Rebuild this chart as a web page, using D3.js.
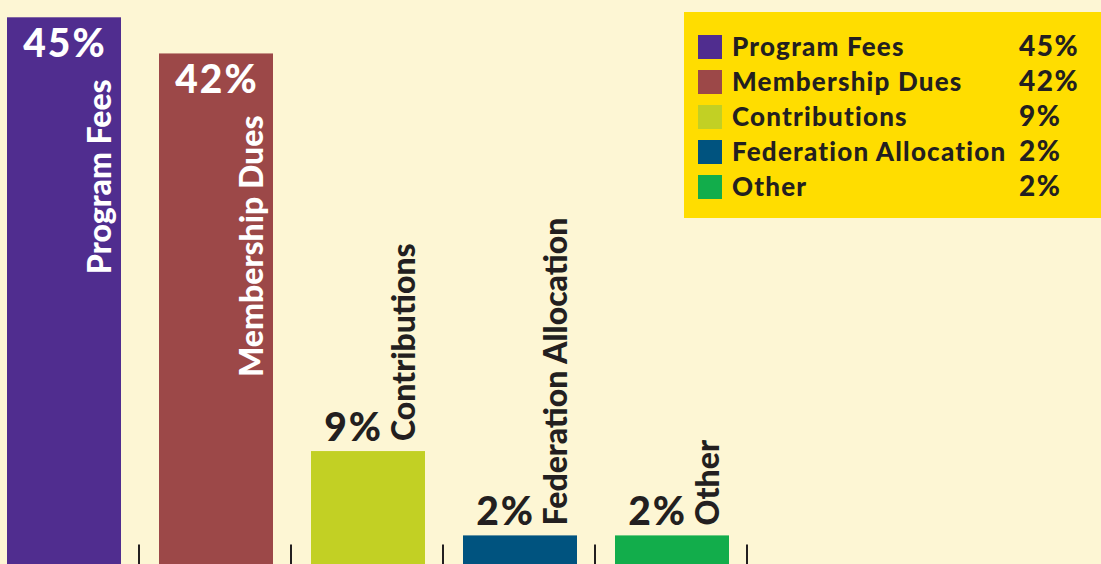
<!DOCTYPE html>
<html>
<head>
<meta charset="utf-8">
<script src="https://cdn.jsdelivr.net/npm/d3@7"></script>
<style>
  body { margin: 0; background: #fdf6d4; }
  svg { display: block; font-family: Lato, "Open Sans", sans-serif; font-weight: 900; }
</style>
</head>
<body>
<svg id="chart"></svg>
<script>
const categories = ["Program Fees", "Membership Dues", "Contributions", "Federation Allocation", "Other"];
const values = [45, 42, 9, 2, 2];
const colors = ["#502d8f", "#9c4848", "#c2d024", "#00537f", "#12ad4b"];
const valueLabels = ["45%", "42%", "9%", "2%", "2%"];

const w = 1101;
const h = 564;
const ink = "#231f20";

const data = categories.map((c, i) => ({ name: c, value: values[i], color: colors[i], label: valueLabels[i] }));

const svg = d3.select("#chart").attr("width", w).attr("height", h);

svg.append("rect").attr("width", w).attr("height", h).attr("fill", "#fdf6d4");

// scales
const x = d3.scaleBand()
  .domain(categories)
  .range([7, 729])
  .paddingInner(0.25)
  .paddingOuter(0);

const y = d3.scaleLinear()
  .domain([0, 45])
  .range([559.5, 17.3]);

const bw = x.bandwidth();
const gap = x.step() - bw;

// bars (run off the bottom edge like the original)
svg.selectAll("rect.bar")
  .data(data)
  .enter()
  .append("rect")
  .attr("class", "bar")
  .attr("x", d => x(d.name))
  .attr("y", d => y(d.value))
  .attr("width", bw)
  .attr("height", d => h - y(d.value))
  .attr("fill", d => d.color);

// tick marks between bars
svg.selectAll("line.tick")
  .data(data)
  .enter()
  .append("line")
  .attr("class", "tick")
  .attr("x1", d => x(d.name) + bw + gap / 2 - 1)
  .attr("x2", d => x(d.name) + bw + gap / 2 - 1)
  .attr("y1", y(0) - 15)
  .attr("y2", h)
  .attr("stroke", ink)
  .attr("stroke-width", 2);

const inside = d => d.value > 20;
const valueSpacing = 2;

// value labels
svg.selectAll("text.value")
  .data(data)
  .enter()
  .append("text")
  .attr("class", "value")
  .attr("x", d => inside(d) ? x(d.name) + bw / 2 + valueSpacing / 2 : x(d.name) + bw - 44 + valueSpacing)
  .attr("y", d => inside(d) ? y(d.value) + 40 : y(d.value) - 10)
  .attr("text-anchor", d => inside(d) ? "middle" : "end")
  .attr("fill", d => inside(d) ? "#fff" : ink)
  .style("font-size", "39px")
  .style("letter-spacing", valueSpacing + "px")
  .text(d => d.label);

// rotated category labels
svg.selectAll("text.name")
  .data(data)
  .enter()
  .append("text")
  .attr("class", "name")
  .attr("transform", d => {
    const tx = x(d.name) + bw - 10;
    const ty = inside(d) ? y(d.value) + 62 : y(d.value) - 10;
    return "translate(" + tx + "," + ty + ") rotate(-90)";
  })
  .attr("text-anchor", d => inside(d) ? "end" : "start")
  .attr("fill", d => inside(d) ? "#fff" : ink)
  .style("font-size", "32px")
  .text(d => d.name);

// legend
const legend = svg.append("g").attr("transform", "translate(684,12)");
legend.append("rect")
  .attr("width", w - 684)
  .attr("height", 206)
  .attr("fill", "#ffdd00");

const rows = legend.selectAll("g.row")
  .data(data)
  .enter()
  .append("g")
  .attr("class", "row")
  .attr("transform", (d, i) => "translate(14," + (23 + i * 35) + ")");

rows.append("rect")
  .attr("width", 24)
  .attr("height", 24)
  .attr("fill", d => d.color);

rows.append("text")
  .attr("x", 34)
  .attr("y", 21)
  .attr("fill", ink)
  .style("font-size", "26px")
  .style("letter-spacing", "1.2px")
  .text(d => d.name);

rows.append("text")
  .attr("x", 321)
  .attr("y", 21)
  .attr("fill", ink)
  .style("font-size", "28px")
  .style("letter-spacing", "1.5px")
  .text(d => d.label);
</script>
</body>
</html>
